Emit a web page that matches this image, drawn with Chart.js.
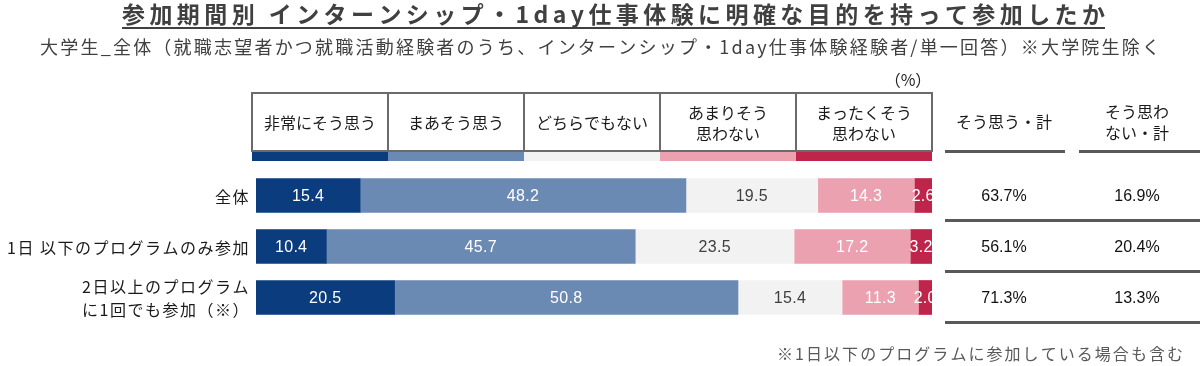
<!DOCTYPE html>
<html>
<head>
<meta charset="utf-8">
<script src="https://cdn.jsdelivr.net/npm/chart.js@4/dist/chart.umd.min.js"></script>
<style>
html,body{margin:0;padding:0;background:#fff;}
#c{display:block;}
</style>
</head>
<body>
<canvas id="c" width="1200" height="366"></canvas>
<script>
// ---- data ----
const categories = ['全体', '1日 以下のプログラムのみ参加', ['2日以上のプログラム', 'に1回でも参加（※）']];
const seriesNames = ['非常にそう思う', 'まあそう思う', 'どちらでもない', 'あまりそう思わない', 'まったくそう思わない'];
const seriesLegendLines = [['非常にそう思う'], ['まあそう思う'], ['どちらでもない'], ['あまりそう', '思わない'], ['まったくそう', '思わない']];
const veryAgree = [15.4, 10.4, 20.5];
const somewhatAgree = [48.2, 45.7, 50.8];
const neutral = [19.5, 23.5, 15.4];
const somewhatDisagree = [14.3, 17.2, 11.3];
const stronglyDisagree = [2.6, 3.2, 2.0];
const agreeTotal = ['63.7%', '56.1%', '71.3%'];
const disagreeTotal = ['16.9%', '20.4%', '13.3%'];
const totalHeaders = [['そう思う・計'], ['そう思わ', 'ない・計']];
const titleText = '参加期間別 インターンシップ・1day仕事体験に明確な目的を持って参加したか';
const subtitleText = '大学生_全体（就職志望者かつ就職活動経験者のうち、インターンシップ・1day仕事体験経験者/単一回答）※大学院生除く';
const footnoteText = '※1日以下のプログラムに参加している場合も含む';
const unitText = '（%）';

// ---- styles ----
const colors = ['#0A3C7E', '#6A8AB3', '#F2F2F2', '#EBA1B0', '#BF244B'];
const labelColors = ['#ffffff', '#ffffff', '#404040', '#ffffff', '#ffffff'];
const CJK = '"Noto Sans CJK JP", "Noto Sans", sans-serif';
const NUM = '"Liberation Sans", Arial, sans-serif';

function fitText(ctx, text, x1, x2, y) {
  ctx.letterSpacing = '0px';
  const w = ctx.measureText(text).width;
  const n = [...text].length;
  const ls = (x2 - x1 - w) / Math.max(1, n - 1);
  ctx.letterSpacing = ls + 'px';
  ctx.textAlign = 'left';
  ctx.fillText(text, x1, y);
  ctx.letterSpacing = '0px';
}

const decor = {
  id: 'decor',
  beforeDraw(chart) {
    const ctx = chart.ctx;
    ctx.save();
    ctx.fillStyle = '#fff';
    ctx.fillRect(0, 0, chart.width, chart.height);
    ctx.restore();
  },
  afterDatasetsDraw(chart) {
    const ctx = chart.ctx;
    ctx.save();
    ctx.font = '16px ' + NUM;
    ctx.textBaseline = 'middle';
    ctx.textAlign = 'center';
    ctx.letterSpacing = '0.3px';
    chart.data.datasets.forEach((ds, di) => {
      const meta = chart.getDatasetMeta(di);
      meta.data.forEach((el, i) => {
        const v = ds.data[i];
        ctx.fillStyle = labelColors[di];
        ctx.fillText(v.toFixed(1), (el.x + el.base) / 2, el.y + 1);
      });
    });
    ctx.restore();
  },
  afterDraw(chart) {
    const ctx = chart.ctx;
    const y = chart.scales.y;
    ctx.save();
    ctx.textBaseline = 'middle';

    // title
    ctx.fillStyle = '#404040';
    ctx.font = 'bold 23px ' + CJK;
    fitText(ctx, titleText, 122, 1105, 14);
    ctx.fillRect(122, 27, 983, 2);

    // subtitle
    ctx.font = '18px ' + CJK;
    ctx.fillStyle = '#404040';
    fitText(ctx, subtitleText, 40, 1160, 47);

    // footnote
    ctx.font = '16px ' + CJK;
    ctx.fillStyle = '#595959';
    fitText(ctx, footnoteText, 777, 1183, 354);

    // unit
    ctx.font = '16px ' + CJK;
    ctx.fillStyle = '#222';
    ctx.textAlign = 'center';
    ctx.fillText(unitText, 908, 80);

    // legend boxes
    const bx0 = 252, bw = 136, by0 = 93, by1 = 151;
    ctx.font = '16px ' + CJK;
    for (let i = 0; i < seriesLegendLines.length; i++) {
      const x = bx0 + i * bw;
      ctx.fillStyle = colors[i];
      ctx.fillRect(x, 152, bw, 9);
      const lines = seriesLegendLines[i];
      ctx.fillStyle = '#1a1a1a';
      ctx.textAlign = 'center';
      ctx.letterSpacing = '0px';
      const cy = (by0 + by1) / 2 + 1;
      lines.forEach((t, k) => {
        ctx.fillText(t, x + bw / 2, cy + (k - (lines.length - 1) / 2) * 21);
      });
    }
    ctx.letterSpacing = '0px';
    ctx.strokeStyle = '#6b6b6b';
    ctx.lineWidth = 2;
    ctx.strokeRect(bx0, by0, bw * 5, by1 - by0);
    for (let i = 1; i < 5; i++) {
      ctx.beginPath();
      ctx.moveTo(bx0 + i * bw, by0);
      ctx.lineTo(bx0 + i * bw, by1);
      ctx.stroke();
    }

    // category labels
    ctx.font = '16px ' + CJK;
    ctx.fillStyle = '#1a1a1a';
    ctx.textAlign = 'right';
    ctx.letterSpacing = '1.5px';
    categories.forEach((c, i) => {
      const lines = Array.isArray(c) ? c : [c];
      const cy = y.getPixelForValue(i);
      lines.forEach((t, k) => {
        ctx.fillText(t, 250, cy + 1 + (k - (lines.length - 1) / 2) * 23);
      });
    });
    ctx.letterSpacing = '0px';

    // right table
    const colCenters = [1004, 1137];
    const colSpans = [[945, 1065], [1079, 1200]];
    ctx.font = '16px ' + CJK;
    ctx.fillStyle = '#1a1a1a';
    ctx.textAlign = 'center';
    totalHeaders.forEach((h, j) => {
      h.forEach((t, k) => {
        ctx.fillText(t, colCenters[j], 122 + (k - (h.length - 1) / 2) * 21);
      });
      ctx.fillStyle = '#595959';
      ctx.fillRect(colSpans[j][0], 150, colSpans[j][1] - colSpans[j][0], 3);
      ctx.fillStyle = '#1a1a1a';
    });
    const step = y.getPixelForValue(1) - y.getPixelForValue(0);
    ctx.font = '16px ' + NUM;
    categories.forEach((c, i) => {
      const cy = y.getPixelForValue(i);
      ctx.fillStyle = '#111';
      ctx.fillText(agreeTotal[i], colCenters[0], cy + 1);
      ctx.fillText(disagreeTotal[i], colCenters[1], cy + 1);
      ctx.fillStyle = '#595959';
      ctx.fillRect(945, Math.round(cy + step / 2) - 2, 255, 3);
    });
    ctx.restore();
  }
};

const dataArrays = [veryAgree, somewhatAgree, neutral, somewhatDisagree, stronglyDisagree];

new Chart(document.getElementById('c'), {
  type: 'bar',
  data: {
    labels: categories,
    datasets: dataArrays.map((d, i) => ({
      label: seriesNames[i],
      data: d,
      backgroundColor: colors[i],
      borderWidth: 0,
      barThickness: 34
    }))
  },
  options: {
    indexAxis: 'y',
    responsive: false,
    devicePixelRatio: 1,
    animation: false,
    layout: { padding: { left: 256, right: 268, top: 170, bottom: 43 } },
    scales: {
      x: { stacked: true, min: 0, max: 100, display: false },
      y: { stacked: true, display: false }
    },
    plugins: { legend: { display: false }, tooltip: { enabled: false }, title: { display: false } }
  },
  plugins: [decor]
});
</script>
</body>
</html>
